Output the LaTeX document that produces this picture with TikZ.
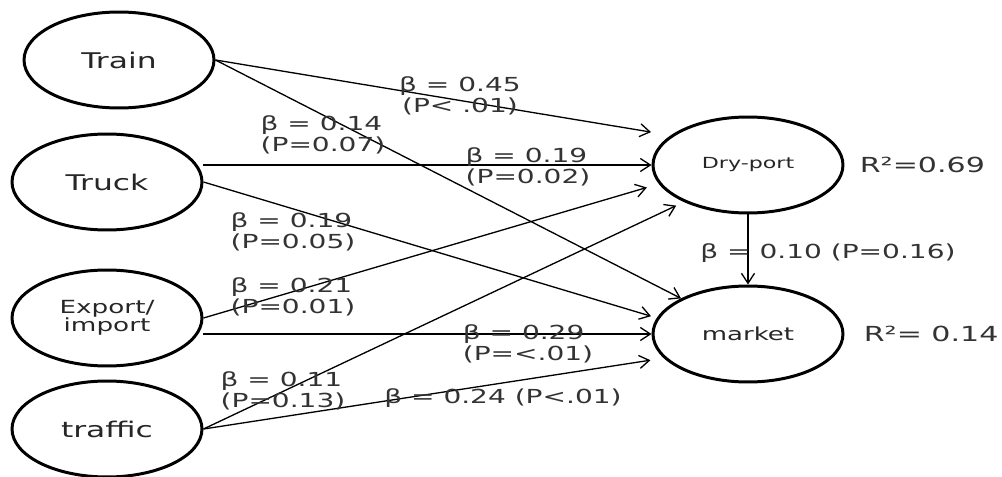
\documentclass[tikz,border=0pt]{standalone}
\usepackage{fontspec}
\newfontfamily\lab[FakeStretch=1.45]{DejaVu Sans}
\usetikzlibrary{arrows.meta, positioning, shapes.geometric}

\begin{document}
\begin{tikzpicture}[
      x=0.02cm, y=-0.02cm,
      node distance=3mm,
      var/.style={draw, ellipse, line width=1.7pt, minimum width=3.8cm, minimum height=1.92cm, inner sep=0pt, align=center, text=black!85, font=\lab\fontsize{12.3}{13}\selectfont},
      coef/.style={inner sep=0pt, align=left, text=black!80, font=\lab\fontsize{11}{12}\selectfont},
      link/.style={->, line width=0.75pt},
      >={Straight Barb[length=2mm, width=2.6mm]}
    ]
    \useasboundingbox (0,0) rectangle (1002,477);

    % predictors
    \node[var] (train) at (119,60) {Train};
    \node[var] (truck) at (107,182) {Truck};
    \node[var, font=\lab\fontsize{10.3}{10.2}\selectfont] (export) at (107,318) {Export/\\import};
    \node[var] (traffic) at (107,429) {traffic};

    % outcomes
    \node[var, font=\lab\fontsize{8.7}{9}\selectfont] (dry) at (748,165) {Dry-port};
    \node[var, font=\lab\fontsize{10.2}{11}\selectfont] (market) at (748,334) {market};
    \node[coef, font=\lab\fontsize{11.8}{12}\selectfont, right=3mm of dry] (r2dry) {R²=0.69};
    \node[coef, font=\lab\fontsize{11.8}{12}\selectfont, right=3.8mm of market] (r2market) {R²= 0.14};

    \draw[link, shorten >=0.4cm] (train.east) -- (dry.159);
    \draw[link] (train.east) -- (market.152);
    \draw[link] (truck.east |- dry.west) -- (dry.west);
    \draw[link, shorten >=0.12cm] (truck.east) -- (market.170);
    \draw[link, shorten >=0.25cm] (export.east) -- (dry.192);
    \draw[link] (export.east |- market.west) -- (market.west);
    \draw[link, shorten >=0.17cm] (traffic.east) -- (dry.210);
    \draw[link, shorten >=0.27cm] (traffic.east) -- (market.196);
    \draw[link] (dry.south) -- (market.north);

    % path coefficients
    \node[coef, align=center] (c45) at (460,96) {β = 0.45\\(P< .01)};
    \node[coef] (c14) at (323,135) {β = 0.14\\(P=0.07)};
    \node[coef] (c19a) at (528,167) {β = 0.19\\(P=0.02)};
    \node[coef] (c19b) at (293,232) {β = 0.19\\(P=0.05)};
    \node[coef] (c21) at (293,297) {β = 0.21\\(P=0.01)};
    \node[coef] (c29) at (528,344) {β = 0.29\\(P=<.01)};
    \node[coef] (c11) at (283,391) {β = 0.11\\(P=0.13)};
    \node[coef] (c24) at (503,398) {β = 0.24 (P<.01)};
    \node[coef] (c10) at (828,253) {β = 0.10 (P=0.16)};
  \end{tikzpicture}
\end{document}
